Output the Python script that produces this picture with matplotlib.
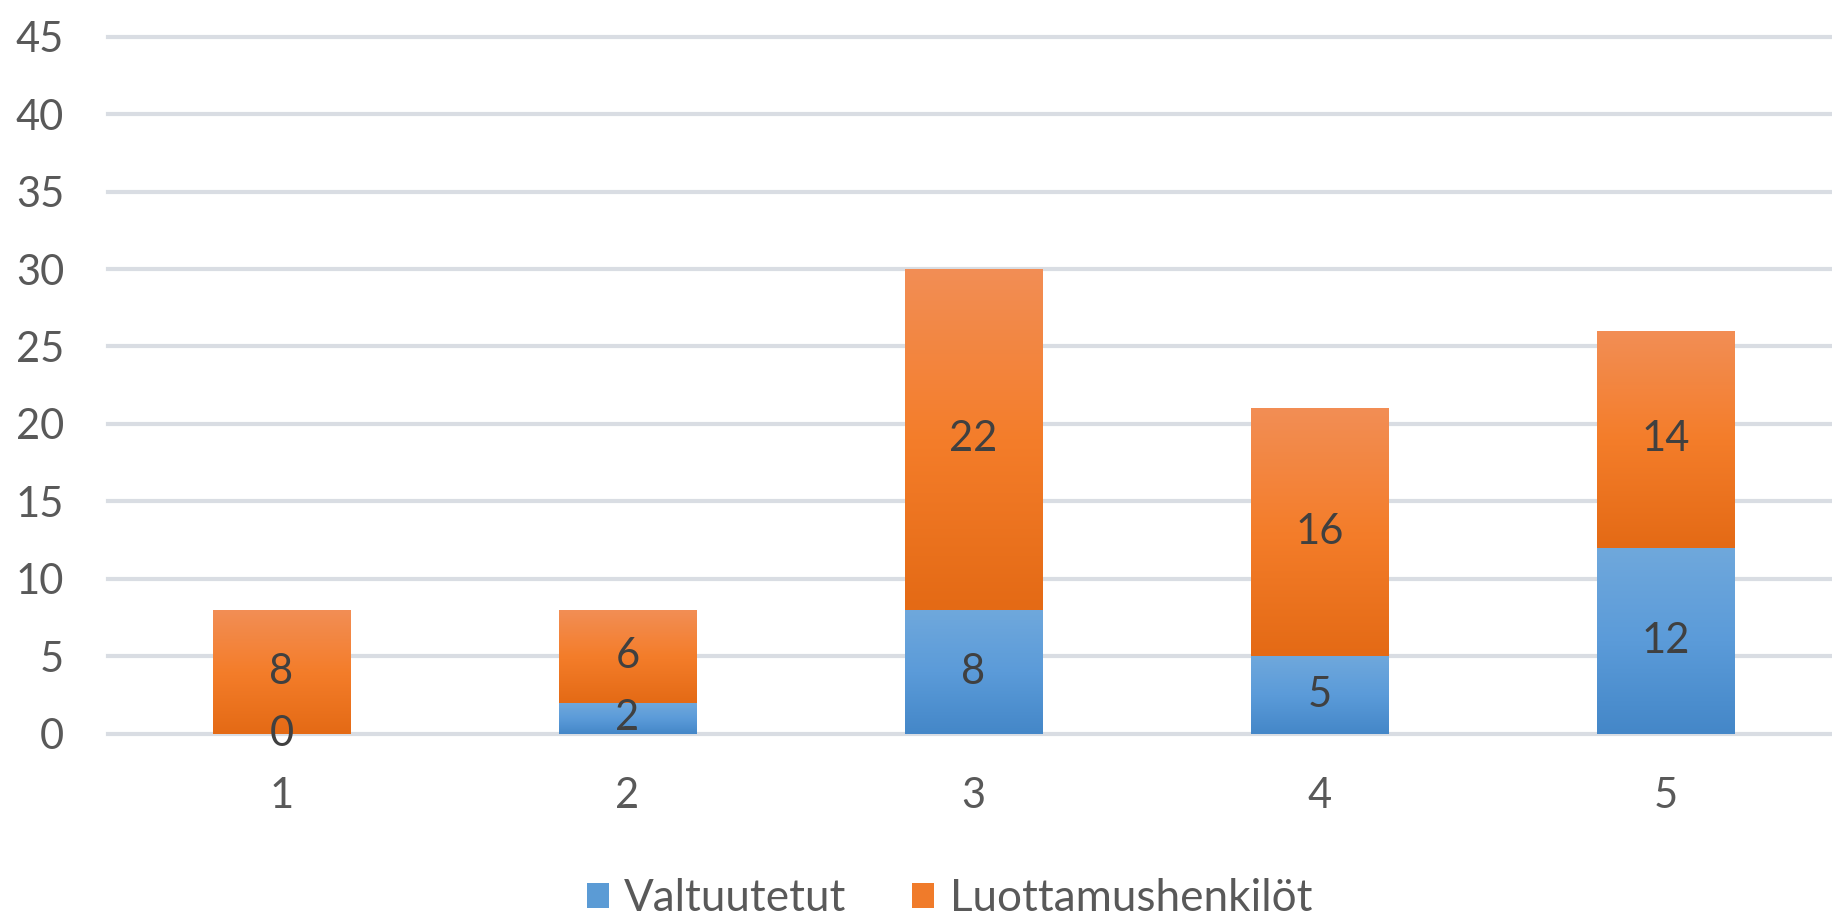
import matplotlib.pyplot as plt
import numpy as np
from matplotlib.colors import LinearSegmentedColormap
from matplotlib.patches import Patch

plt.rcParams['font.family'] = ['Lato', 'DejaVu Sans']

categories = ['1', '2', '3', '4', '5']
valtuutetut = [0, 2, 8, 5, 12]
luottamus = [8, 6, 22, 16, 14]
series_names = ['Valtuutetut', 'Luottamushenkilöt']

blue_cmap = LinearSegmentedColormap.from_list('b', ['#4487C8', '#5B9BD9', '#6FA8DC'])
orange_cmap = LinearSegmentedColormap.from_list('o', ['#E46A15', '#F47D2A', '#F28E55'])

W, H = 1833, 914
fig = plt.figure(figsize=(W / 100, H / 100), dpi=100)
left_px, right_px = 108.5, 108.5 + 5 * 346
y0_px, y45_px = 733.7, 36.7
ax = fig.add_axes([left_px / W, (H - y0_px) / H, (right_px - left_px) / W, (y0_px - y45_px) / H])

x = np.arange(len(categories))
b1 = ax.bar(x, valtuutetut, width=0.396, color='none', zorder=2)
b2 = ax.bar(x, luottamus, width=0.396, bottom=valtuutetut, color='none', zorder=2)

# per-segment vertical gradient, light at the top
grad = np.linspace(0, 1, 256).reshape(-1, 1)
for bars, cmap in [(b1, blue_cmap), (b2, orange_cmap)]:
    for p in bars.patches:
        if p.get_height() <= 0:
            continue
        bx, by, bw, bh = p.get_x(), p.get_y(), p.get_width(), p.get_height()
        ax.imshow(grad, extent=[bx, bx + bw, by, by + bh], origin='lower',
                  aspect='auto', cmap=cmap, zorder=2)

for i in range(len(categories)):
    ax.text(x[i], valtuutetut[i] / 2, str(valtuutetut[i]), ha='center', va='center',
            fontsize=30, color='#404040', zorder=3)
    ax.text(x[i], valtuutetut[i] + luottamus[i] / 2, str(luottamus[i]), ha='center',
            va='center', fontsize=30, color='#404040', zorder=3)

ax.set_xlim(-0.5, 4.5)
ax.set_ylim(0, 45)
ax.set_yticks(range(0, 46, 5))
ax.set_xticks(x)
ax.set_xticklabels(categories)
ax.tick_params(length=0, labelsize=30, labelcolor='#595959')
ax.tick_params(axis='y', pad=32)
ax.tick_params(axis='x', pad=31)
ax.yaxis.grid(True, color='#D9DDE3', linewidth=3)
for gl in ax.get_ygridlines():
    gl.set_clip_on(False)
ax.set_axisbelow(True)
for s in ax.spines.values():
    s.set_visible(False)

handles = [Patch(facecolor='#5B9BD5'), Patch(facecolor='#F07B2A')]
fig.legend(handles, series_names, loc='center', bbox_to_anchor=(0.518, 0.017),
           ncol=2, frameon=False, fontsize=31.7, labelcolor='#595959',
           handlelength=0.5, handleheight=0.5, handletextpad=0.35, columnspacing=1.5)

plt.savefig('out.png', dpi=100)
